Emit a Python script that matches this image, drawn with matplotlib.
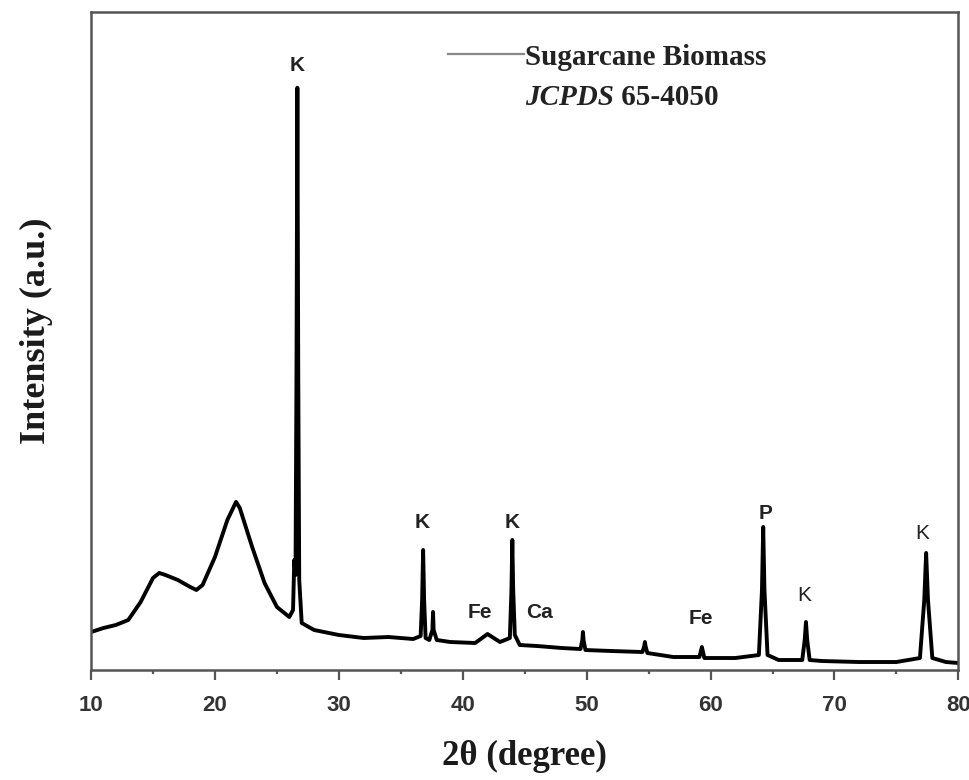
import matplotlib
matplotlib.use("Agg")
import matplotlib.pyplot as plt
from matplotlib.ticker import MultipleLocator

# XRD pattern of sugarcane biomass
two_theta = [10, 11, 12, 13, 14, 15, 15.5, 16, 17, 18, 18.5, 19, 20, 21, 21.7, 22, 23, 24,
             25, 26, 26.3, 26.4, 26.5, 26.58, 26.65, 26.72, 26.8, 27, 28, 30, 32, 34, 36,
             36.6, 36.72, 36.8, 36.88, 37.0, 37.3, 37.55, 37.6, 37.65, 37.9, 39, 41, 42, 43,
             43.8, 43.93, 44.0, 44.07, 44.2, 44.6, 46, 48, 49.5, 49.65, 49.7, 49.75, 49.9, 52,
             54.5, 54.65, 54.7, 54.75, 54.9, 57, 59.1, 59.3, 59.5, 62, 63.9, 64.15, 64.25,
             64.35, 64.6, 65.5, 67.4, 67.6, 67.7, 67.8, 68.0, 69, 72, 75, 76.9, 77.25, 77.4,
             77.55, 77.9, 79, 80]
intensity = [38, 42, 45, 50, 68, 92, 97, 95, 90, 83, 80, 85, 113, 150, 168, 162, 123, 87,
             63, 53, 60, 110, 95, 300, 582, 300, 90, 47, 40, 35, 32, 33, 31,
             34, 70, 120, 70, 32, 30, 40, 58, 40, 30, 28, 27, 36, 28,
             32, 80, 130, 80, 35, 25, 24, 22, 21, 30, 38, 30, 20, 19,
             18, 24, 28, 24, 17, 13, 13, 23, 12, 12, 15, 80, 143,
             80, 15, 10, 10, 30, 48, 30, 10, 9, 8, 8, 12, 70, 117,
             70, 12, 8, 7]

# phase labels: (text, 2theta, intensity, bold)
label_text = ["K", "K", "K", "Fe", "Ca", "Fe", "P", "K", "K"]
label_x = [26.6, 36.7, 44.0, 41.4, 46.2, 59.2, 64.4, 67.6, 77.1]
label_y = [595, 138, 138, 48, 48, 42, 147, 65, 127]
label_bold = [True, True, True, True, True, True, True, False, False]

fig = plt.figure(figsize=(9.69, 7.80), dpi=100)
ax = fig.add_axes([0.094, 0.141, 0.895, 0.844])

ax.plot(two_theta, intensity, color="black", lw=2.8, solid_joinstyle="round")

for t, x, y, b in zip(label_text, label_x, label_y, label_bold):
    ax.text(x, y, t, ha="center", va="bottom", fontsize=15,
            fontweight="bold" if b else "normal", family="Liberation Sans", color="#222222")

ax.set_xlim(10, 80)
ax.set_ylim(0, 658)
ax.xaxis.set_major_locator(MultipleLocator(10))
ax.xaxis.set_minor_locator(MultipleLocator(5))
ax.set_yticks([])
ax.tick_params(axis="x", which="major", direction="out", length=7, width=1.6, color="#555555",
               labelsize=16, pad=11)
ax.tick_params(axis="x", which="minor", direction="out", length=3, width=1.6, color="#555555")
for lab in ax.get_xticklabels():
    lab.set_fontweight("bold")
    lab.set_family("Liberation Sans")
    lab.set_color("#333333")
for sp in ax.spines.values():
    sp.set_linewidth(1.8)
    sp.set_color("#555555")

ax.set_xlabel("2θ (degree)", family="Liberation Serif", fontweight="bold", fontsize=25,
              color="#1a1a1a", labelpad=17)
ax.set_ylabel("Intensity (a.u.)", family="Liberation Serif", fontweight="bold", fontsize=26,
              color="#1a1a1a")
ax.yaxis.set_label_coords(-0.044, 0.515)

# legend drawn by hand, as in the original
ax.plot([0.412, 0.499], [0.936, 0.936], transform=ax.transAxes, color="#888888", lw=1.6)
t1 = ax.text(0.5, 0.93, "Sugarcane Biomass", transform=ax.transAxes, va="center",
             ha="left", family="Liberation Serif", fontweight="bold", fontsize=21,
             color="#222222")
t2 = ax.text(0.5, 0.869, "JCPDS", transform=ax.transAxes, va="center", ha="left",
             family="Liberation Serif", fontweight="bold", fontstyle="italic", fontsize=21,
             color="#222222")
ax.annotate(" 65-4050", xy=(1, 0), xycoords=t2, va="bottom", ha="left",
            family="Liberation Serif", fontweight="bold", fontsize=21, color="#222222")

fig.savefig("out.png", dpi=100)
